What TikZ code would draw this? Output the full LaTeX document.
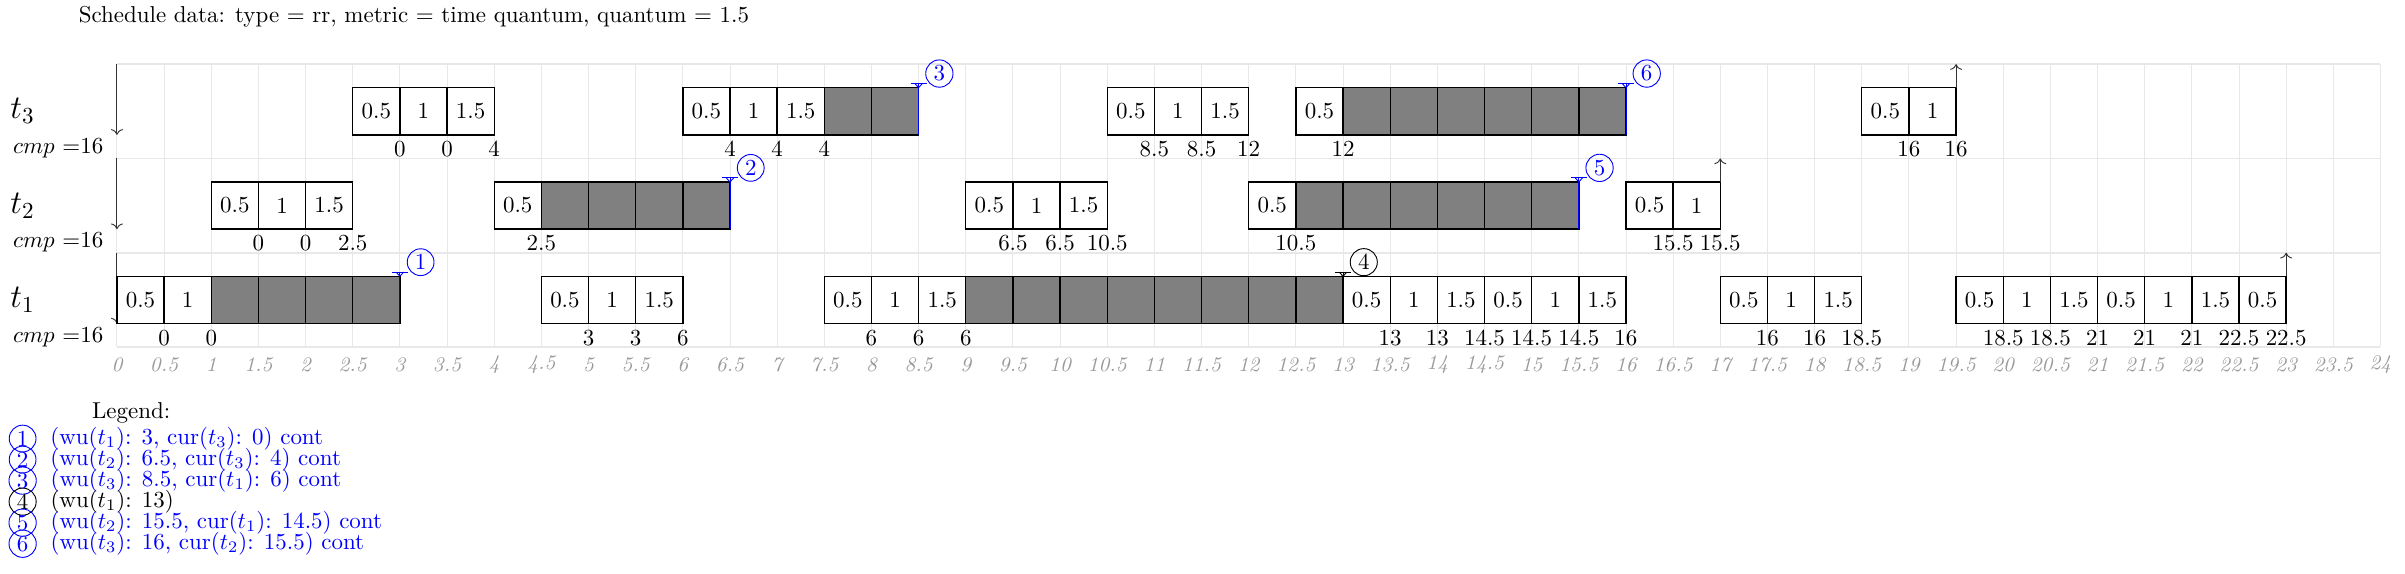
\documentclass[tikz,border=0pt]{standalone}
\usepackage{tikz}
\usetikzlibrary{arrows.meta, positioning}
\definecolor{sgrid}{HTML}{E8E8E8}
\definecolor{saxis}{HTML}{9A9A9A}
\definecolor{sarrow}{HTML}{333333}
\tikzset{
  cell/.style={draw, fill=white, semithick, minimum width=0.7215cm,
               minimum height=0.7215cm, inner sep=0pt, outer sep=0pt},
  gcell/.style={cell, fill=gray},
  val/.style={inner sep=0pt},
  axlab/.style={text=saxis, font=\small\itshape, inner sep=0pt},
  tlab/.style={font=\Large},
  cmplab/.style={anchor=east, inner sep=0pt},
  wucirc/.style={circle, draw, inner sep=1.2pt},
  runarr/.style={->, sarrow},
}

\begin{document}
\begin{tikzpicture}[x=1.443cm, y=1.443cm]
  \useasboundingbox (-1.24,-2.40) rectangle (24.26,3.68);

  %% Title
  \node[anchor=west] (title) at (-0.49,3.5) {Schedule data: type = rr, metric = time quantum, quantum = 1.5};

  %% Grid and time axis
  \draw[sgrid] (0,0) grid[xstep=0.5, ystep=1] (24,3);
  \foreach \y in {0,1,2,3}{
    \draw[sgrid, line width=0.8pt] (0,\y) -- (24,\y);
  }
  \foreach \x [count=\i] in {0,0.5,...,24}{
    \node[axlab] (tick\i) at (\x,-0.19) {\pgfmathprintnumber[assume math mode=true]{\x}};
  }

  %% Task labels
  \foreach \b/\t in {0/1, 1/2, 2/3}{
    \node[tlab] (t\t) at (-1.0,\b+0.5) {$t_\t$};
    \node[cmplab] (cmp\t) at (-0.14,\b+0.11) {$cmp$ =16};
    \draw[runarr] (0,\b+1) -- (0,\b+0.25);
  }

  %% t1
  \foreach \x/\v [count=\i] in {0/0.5, 0.5/1, 4.5/0.5, 5/1, 5.5/1.5, 7.5/0.5, 8/1, 8.5/1.5,
      13/0.5, 13.5/1, 14/1.5, 14.5/0.5, 15/1, 15.5/1.5, 17/0.5, 17.5/1, 18/1.5,
      19.5/0.5, 20/1, 20.5/1.5, 21/0.5, 21.5/1, 22/1.5, 22.5/0.5}{
    \node[cell] (a\i) at (\x+0.25,0.5) {\v};
  }
  \foreach \x [count=\i] in {1, 1.5, 2, 2.5, 9, 9.5, 10, 10.5, 11, 11.5, 12, 12.5}{
    \node[gcell] (ga\i) at (\x+0.25,0.5) {};
  }
  \foreach \x/\v [count=\i] in {0.5/0, 1/0, 5/3, 5.5/3, 6/6, 8/6, 8.5/6, 9/6, 13.5/13, 14/13,
      14.5/14.5, 15/14.5, 15.5/14.5, 16/16, 17.5/16, 18/16, 18.5/18.5, 20/18.5,
      20.5/18.5, 21/21, 21.5/21, 22/21, 22.5/22.5, 23/22.5}{
    \node[val] (va\i) at (\x,0.1) {\v};
  }
  \draw[runarr] (a24.north east) -- (23,1);

  %% t2
  \foreach \x/\v [count=\i] in {1/0.5, 1.5/1, 2/1.5, 4/0.5, 9/0.5, 9.5/1, 10/1.5, 12/0.5,
      16/0.5, 16.5/1}{
    \node[cell] (b\i) at (\x+0.25,1.5) {\v};
  }
  \foreach \x [count=\i] in {4.5, 5, 5.5, 6, 12.5, 13, 13.5, 14, 14.5, 15}{
    \node[gcell] (gb\i) at (\x+0.25,1.5) {};
  }
  \foreach \x/\v [count=\i] in {1.5/0, 2/0, 2.5/2.5, 4.5/2.5, 9.5/6.5, 10/6.5, 10.5/10.5,
      12.5/10.5, 16.5/15.5, 17/15.5}{
    \node[val] (vb\i) at (\x,1.1) {\v};
  }
  \draw[runarr] (b10.north east) -- (17,2);

  %% t3
  \foreach \x/\v [count=\i] in {2.5/0.5, 3/1, 3.5/1.5, 6/0.5, 6.5/1, 7/1.5, 10.5/0.5, 11/1,
      11.5/1.5, 12.5/0.5, 18.5/0.5, 19/1}{
    \node[cell] (c\i) at (\x+0.25,2.5) {\v};
  }
  \foreach \x [count=\i] in {7.5, 8, 13, 13.5, 14, 14.5, 15, 15.5}{
    \node[gcell] (gc\i) at (\x+0.25,2.5) {};
  }
  \foreach \x/\v [count=\i] in {3/0, 3.5/0, 4/4, 6.5/4, 7/4, 7.5/4, 11/8.5, 11.5/8.5, 12/12,
      13/12, 19/16, 19.5/16}{
    \node[val] (vc\i) at (\x,2.1) {\v};
  }
  \draw[runarr] (c12.north east) -- (19.5,3);

  %% Wake-up marks
  \foreach \x/\b/\c/\n in {3/0/blue/1, 6.5/1/blue/2, 8.5/2/blue/3, 13/0/black/4,
      15.5/1/blue/5, 16/2/blue/6}{
    \draw[\c] (\x,\b+0.25) -- (\x,\b+0.795);
    \draw[\c] (\x-0.085,\b+0.795) -- (\x+0.085,\b+0.795);
    \draw[\c] (\x-0.04,\b+0.795) -- (\x,\b+0.75) -- (\x+0.04,\b+0.795);
    \node[wucirc, \c] (wu\n) at (\x+0.22,\b+0.9) {\n};
  }

  %% Legend
  \node (legend) at (0.15,-0.7) {Legend:};
  \foreach \n/\c/\txt in {1/blue/{(wu($t_1$): 3, cur($t_3$): 0) cont},
      2/blue/{(wu($t_2$): 6.5, cur($t_3$): 4) cont},
      3/blue/{(wu($t_3$): 8.5, cur($t_1$): 6) cont},
      4/black/{(wu($t_1$): 13)},
      5/blue/{(wu($t_2$): 15.5, cur($t_1$): 14.5) cont},
      6/blue/{(wu($t_3$): 16, cur($t_2$): 15.5) cont}}{
    \node[wucirc, \c] (lc\n) at (-1.0,{-0.747-0.223*\n}) {\n};
    \node[\c, right=2.5pt of lc\n] (lt\n) {\txt};
  }

\end{tikzpicture}
\end{document}
